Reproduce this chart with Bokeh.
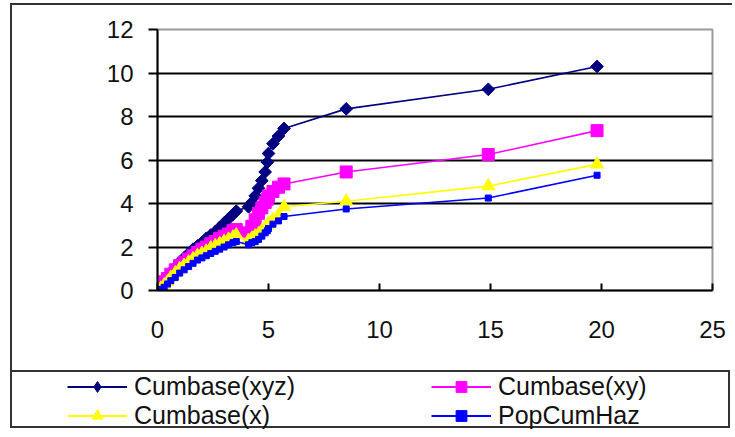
import numpy as np
from bokeh.plotting import figure
from bokeh.models import Legend, LegendItem, Range1d, FixedTicker
from bokeh.embed import file_html
from bokeh.resources import INLINE

# ---- data ----
time = [0, 0.15, 0.3, 0.45, 0.6, 0.8, 1.0, 1.2, 1.4, 1.6, 1.8, 2.0, 2.2, 2.4,
        2.6, 2.8, 3.0, 3.2, 3.4, 3.55, 4.1, 4.25, 4.4, 4.55, 4.7, 4.85, 4.95,
        5.0, 5.2, 5.45, 5.7, 8.5, 14.9, 19.8]
cumbase_xyz = [0, 0.2, 0.4, 0.6, 0.8, 1.05, 1.3, 1.5, 1.7, 1.9, 2.05, 2.2, 2.4, 2.55,
               2.7, 2.9, 3.1, 3.3, 3.5, 3.65, 3.85, 4.05, 4.35, 4.7, 5.05, 5.45, 5.9,
               6.3, 6.75, 7.1, 7.45, 8.35, 9.25, 10.3]
cumbase_xy = [0, 0.2, 0.4, 0.55, 0.75, 0.95, 1.15, 1.3, 1.45, 1.6, 1.75, 1.9, 2.0, 2.15,
              2.25, 2.4, 2.5, 2.6, 2.75, 2.8, 2.65, 2.95, 3.25, 3.55, 3.8, 4.05, 4.2,
              4.35, 4.55, 4.75, 4.9, 5.45, 6.25, 7.35]
cumbase_x = [0, 0.1, 0.25, 0.4, 0.6, 0.8, 1.0, 1.15, 1.3, 1.45, 1.6, 1.7, 1.8, 1.95,
             2.05, 2.15, 2.25, 2.35, 2.45, 2.55, 2.3, 2.4, 2.5, 2.6, 2.75, 2.9, 3.0,
             3.1, 3.25, 3.45, 3.85, 4.1, 4.8, 5.8]
pop_cum_haz = [0, 0.05, 0.15, 0.3, 0.45, 0.6, 0.8, 0.95, 1.1, 1.25, 1.4, 1.5, 1.6, 1.7,
               1.8, 1.9, 2.0, 2.1, 2.2, 2.25, 2.1, 2.2, 2.25, 2.35, 2.5, 2.65, 2.75,
               2.85, 3.05, 3.2, 3.4, 3.75, 4.25, 5.3]

series_names = ["Cumbase(xyz)", "Cumbase(xy)", "Cumbase(x)", "PopCumHaz"]
x_ticks = [0, 5, 10, 15, 20, 25]
y_ticks = [0, 2, 4, 6, 8, 10, 12]

FONT = "Liberation Sans"
OX, OY = 12, 5          # page position of the chart canvas (inside the CSS border)
W, H = 722, 367

p = figure(width=W, height=H, x_range=Range1d(0, 25), y_range=Range1d(0, 12),
           output_backend="svg", toolbar_location=None,
           min_border_left=157 - OX, min_border_right=W - (712 - OX),
           min_border_top=29 - OY, min_border_bottom=H - (290 - OY))
p.styles = {"border-top": "2px solid #333333", "border-left": "2px solid #333333",
            "margin-left": "10px", "margin-top": "3px"}

p.xaxis.ticker = FixedTicker(ticks=x_ticks)
p.yaxis.ticker = FixedTicker(ticks=y_ticks)
for ax in (p.xaxis[0], p.yaxis[0]):
    ax.axis_line_color = "black"
    ax.axis_line_width = 2
    ax.major_tick_line_color = "black"
    ax.major_tick_line_width = 2
    ax.minor_tick_line_color = None
    ax.major_label_text_font = FONT
    ax.major_label_text_font_size = "24px"
    ax.major_label_text_color = "#111111"
p.xaxis.major_tick_in = 7
p.xaxis.major_tick_out = 0
p.xaxis.major_label_standoff = 30
p.yaxis.major_tick_in = 0
p.yaxis.major_tick_out = 9
p.yaxis.major_label_standoff = 15

p.xgrid.visible = False
p.ygrid.ticker = FixedTicker(ticks=y_ticks[1:-1])
p.ygrid.grid_line_color = "black"
p.ygrid.grid_line_width = 1.8
p.outline_line_color = "#9a9a9a"
p.outline_line_width = 2

styles = [
    dict(color="#000080", marker="square", size=9, angle=np.pi / 4),
    dict(color="#FF00FF", marker="square", size=12, angle=0.0),
    dict(color="#FFFF00", marker="triangle", size=13, angle=0.0),
    dict(color="#0000FF", marker="square", size=6, angle=0.0),
]
values = [cumbase_xyz, cumbase_xy, cumbase_x, pop_cum_haz]
for vals, st in zip(values, styles):
    p.line(time, vals, line_color=st["color"], line_width=1.6)
    p.scatter(time, vals, marker=st["marker"], size=st["size"], angle=st["angle"],
              fill_color=st["color"], line_color=st["color"])

# ---- legend box (separate canvas below the chart) ----
LW, LH = 720, 58
LX = 12
leg = figure(width=LW, height=LH, x_range=Range1d(100, 101), y_range=Range1d(100, 101),
             output_backend="svg", toolbar_location=None,
             x_axis_location=None, y_axis_location=None, min_border=0)
leg.styles = {"border": "2px solid #333333", "margin-left": "10px"}
leg.xgrid.visible = False
leg.ygrid.visible = False
leg.outline_line_color = None

leg_styles = [
    dict(color="#000080", marker="diamond", size=16),
    dict(color="#FF00FF", marker="square", size=13),
    dict(color="#FFFF00", marker="triangle", size=14),
    dict(color="#0000FF", marker="square", size=7),
]
items = []
for name, vals, st in zip(series_names, values, leg_styles):
    r1 = leg.line(time, vals, line_color=st["color"], line_width=1.8)
    r2 = leg.scatter(time, vals, marker=st["marker"], size=st["size"],
                     fill_color=st["color"], line_color=st["color"])
    items.append(LegendItem(label=name, renderers=[r1, r2]))

# 2 columns, filled column-major -> rows: xyz | xy , x | PopCumHaz
ordered = [items[0], items[2], items[1], items[3]]
legend = Legend(items=ordered, ncols=2, location=(67 - LX, 0),
                border_line_alpha=0, background_fill_alpha=0,
                glyph_width=60, glyph_height=27, label_height=27,
                label_standoff=7, label_width=297, spacing=0, padding=0, margin=0,
                label_text_font=FONT, label_text_font_size="25px",
                label_text_color="#111111")
leg.add_layout(legend, "center")

open("out.html", "w").write(file_html([p, leg], INLINE))
